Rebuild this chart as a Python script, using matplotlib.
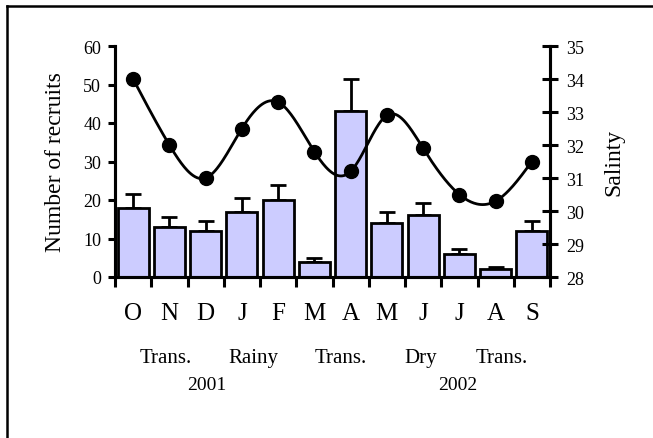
import numpy as np
import matplotlib
matplotlib.use("Agg")
import matplotlib.pyplot as plt
from matplotlib.lines import Line2D

months = ["O", "N", "D", "J", "F", "M", "A", "M", "J", "J", "A", "S"]
recruits = [18, 13, 12, 17, 20, 4, 43, 14, 16, 6, 2, 12]
recruits_err = [3.5, 2.5, 2.5, 3.5, 4, 1, 8.5, 3, 3.2, 1.2, 0.5, 2.5]
salinity = [34.0, 32.0, 31.0, 32.5, 33.3, 31.8, 31.2, 32.9, 31.9, 30.5, 30.3, 31.5]
seasons = ["Trans.", "Rainy", "Trans.", "Dry", "Trans."]
season_pos = [1.41, 3.81, 6.23, 8.44, 10.68]
years = ["2001", "2002"]
year_pos = [2.54, 9.46]

plt.rcParams['font.family'] = ['Liberation Serif', 'DejaVu Serif']

fig = plt.figure(figsize=(6.53, 4.39), dpi=100)
ax = fig.add_axes([115/653, 1-278/439, 435/653, 231/439])

x = np.arange(len(months)) + 0.5
ax.bar(x, recruits, width=0.86, color='#CCCCFF', edgecolor='black', linewidth=2, zorder=2)
ax.errorbar(x, recruits, yerr=[np.zeros(len(recruits)), recruits_err], fmt='none',
            ecolor='black', elinewidth=2, capsize=6, capthick=2, zorder=1)

ax.set_xlim(0, 12)
ax.set_ylim(0, 60)
ax.set_yticks(range(0, 61, 10))
ax.set_xticks(range(0, 13))
ax.set_xticklabels([])
ax.spines['top'].set_visible(False)
for s in ['left', 'right', 'bottom']:
    ax.spines[s].set_linewidth(2.2)
ax.tick_params(axis='y', direction='out', length=5, width=2.2, labelsize=13, pad=5)
ax.tick_params(axis='x', direction='out', length=7, width=2.2)
ax.set_ylabel("Number of recruits", fontsize=17, labelpad=12)

# natural cubic spline for salinity
def nat_spline(xs, ys, xn):
    xs = np.asarray(xs, float); ys = np.asarray(ys, float)
    n = len(xs)
    h = np.diff(xs)
    A = np.zeros((n, n)); b = np.zeros(n)
    A[0, 0] = 1; A[-1, -1] = 1
    for i in range(1, n-1):
        A[i, i-1] = h[i-1]; A[i, i] = 2*(h[i-1]+h[i]); A[i, i+1] = h[i]
        b[i] = 6*((ys[i+1]-ys[i])/h[i] - (ys[i]-ys[i-1])/h[i-1])
    M = np.linalg.solve(A, b)
    out = np.empty_like(xn)
    for k, xv in enumerate(xn):
        i = min(max(np.searchsorted(xs, xv) - 1, 0), n-2)
        t1 = xs[i+1]-xv; t0 = xv-xs[i]
        out[k] = (M[i]*t1**3 + M[i+1]*t0**3)/(6*h[i]) + (ys[i]/h[i] - M[i]*h[i]/6)*t1 + (ys[i+1]/h[i] - M[i+1]*h[i]/6)*t0
    return out

ax2 = ax.twinx()
ax2.set_ylim(28, 35)
ax2.set_yticks(range(28, 36))
xs = np.linspace(x[0], x[-1], 400)
ax2.plot(xs, nat_spline(x, salinity, xs), color='black', linewidth=2, zorder=3)
ax2.plot(x, salinity, 'o', color='black', markersize=10, zorder=4)
ax2.spines['top'].set_visible(False)
for s in ['left', 'right', 'bottom']:
    ax2.spines[s].set_linewidth(2.2)
ax2.tick_params(axis='y', direction='inout', length=11, width=2.2, labelsize=13, pad=6)
ax2.set_ylabel("Salinty", fontsize=17, labelpad=14)

for xi, m in zip(x, months):
    ax.text(xi, -9.4, m, ha='center', va='center', fontsize=18)
for p, s in zip(season_pos, seasons):
    ax.text(p, -20.8, s, ha='center', va='center', fontsize=15)
for p, s in zip(year_pos, years):
    ax.text(p, -27.8, s, ha='center', va='center', fontsize=14)

# partial frame (top and left)
fig.add_artist(Line2D([7/653, 1.0], [1-7/439, 1-7/439], transform=fig.transFigure, color='black', linewidth=1.8))
fig.add_artist(Line2D([7/653, 7/653], [0, 1-7/439], transform=fig.transFigure, color='black', linewidth=1.8))

fig.savefig("out.png", dpi=100)
